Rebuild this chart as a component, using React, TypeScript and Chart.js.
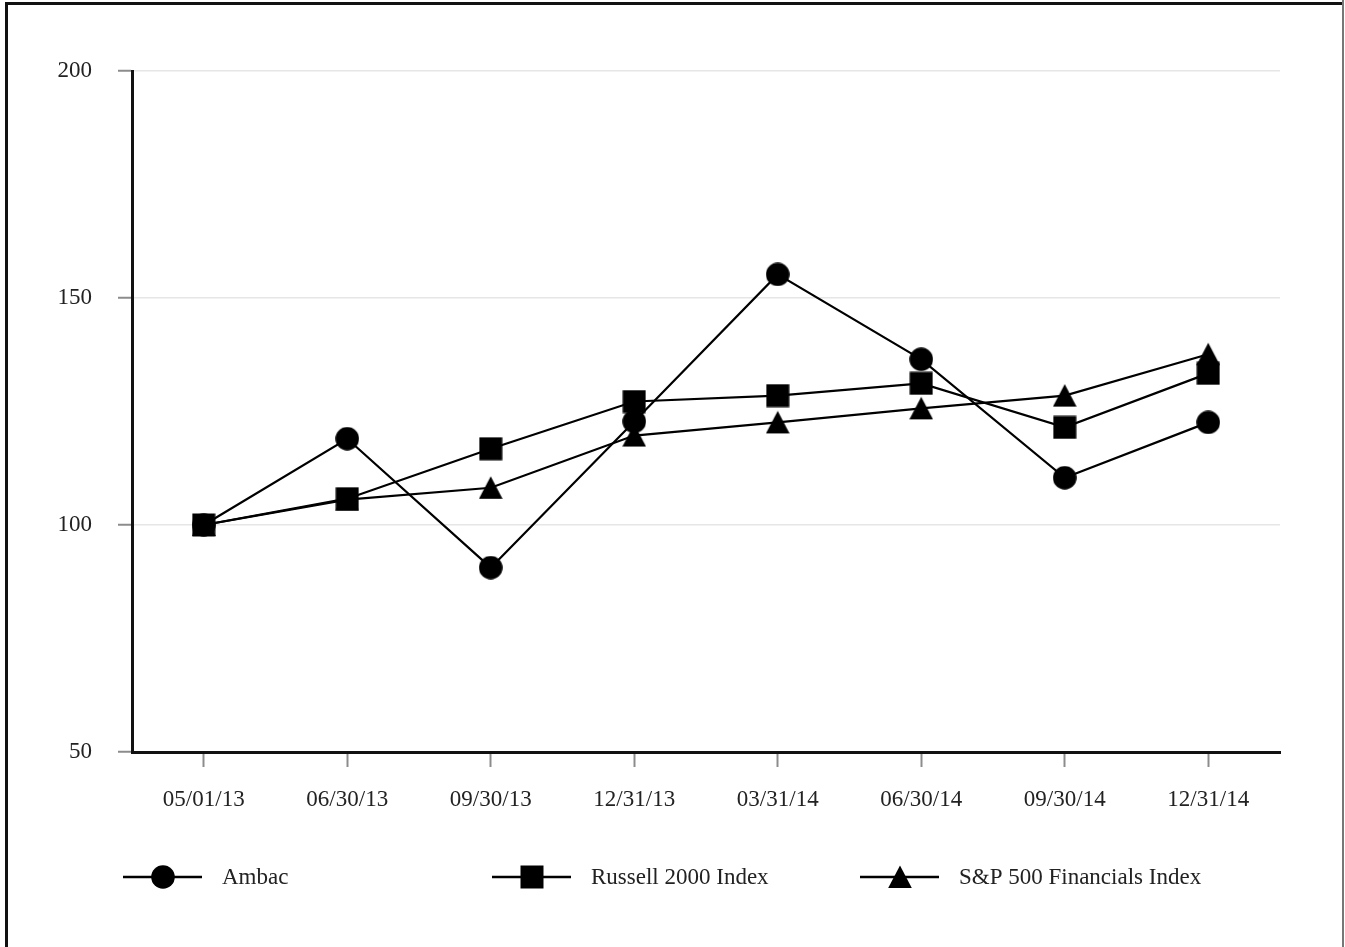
import React, { useEffect, useRef } from 'react';
import { Chart, registerables } from 'chart.js';

Chart.register(...registerables);

const categories = ['05/01/13', '06/30/13', '09/30/13', '12/31/13', '03/31/14', '06/30/14', '09/30/14', '12/31/14'];
const ambac = [100, 119.0, 90.6, 122.8, 155.2, 136.5, 110.4, 122.6];
const russell2000 = [100, 105.8, 116.8, 127.2, 128.5, 131.2, 121.5, 133.4];
const sp500Financials = [100, 105.6, 108.2, 119.7, 122.6, 125.7, 128.5, 137.6];
const seriesNames = ['Ambac', 'Russell 2000 Index', 'S&P 500 Financials Index'];
const yMin = 50;
const yMax = 200;
const yStep = 50;

const FONT = '"Liberation Serif", "Times New Roman", serif';

function makeMarker(kind: string): HTMLCanvasElement {
  const c = document.createElement('canvas');
  c.width = 24;
  c.height = 24;
  const ctx = c.getContext('2d') as CanvasRenderingContext2D;
  ctx.fillStyle = '#000';
  ctx.beginPath();
  if (kind === 'circle') {
    ctx.ellipse(12, 12, 11.8, 11.8, 0, 0, Math.PI * 2);
  } else if (kind === 'square') {
    ctx.rect(0.5, 0.5, 23, 23);
  } else {
    ctx.moveTo(12, 0.5);
    ctx.lineTo(23.8, 23);
    ctx.lineTo(0.2, 23);
    ctx.closePath();
  }
  ctx.fill();
  return c;
}

export default function App() {
  const ref = useRef<HTMLCanvasElement>(null);

  useEffect(() => {
    const markers = [makeMarker('circle'), makeMarker('square'), makeMarker('triangle')];
    const values = [ambac, russell2000, sp500Financials];

    const framePlugin = {
      id: 'frame',
      beforeDraw(chart: any) {
        const ctx = chart.ctx as CanvasRenderingContext2D;
        ctx.save();
        ctx.fillStyle = '#ffffff';
        ctx.fillRect(0, 0, chart.width, chart.height);
        ctx.fillStyle = '#111';
        ctx.fillRect(5, 2, 1339, 3);
        ctx.fillRect(5, 2, 3, 945);
        ctx.fillStyle = '#777';
        ctx.fillRect(1342, 0, 2, 947);
        ctx.restore();
      },
    };

    const legendPlugin = {
      id: 'customLegend',
      afterDraw(chart: any) {
        const ctx = chart.ctx as CanvasRenderingContext2D;
        const lineStarts = [123, 492, 860];
        const y = 877;
        ctx.save();
        chart.data.datasets.forEach((ds: any, i: number) => {
          const x0 = lineStarts[i];
          ctx.strokeStyle = '#000';
          ctx.lineWidth = 2.5;
          ctx.beginPath();
          ctx.moveTo(x0, y);
          ctx.lineTo(x0 + 79, y);
          ctx.stroke();
          const m = markers[i];
          ctx.drawImage(m, x0 + 40 - m.width / 2, y - m.height / 2);
          ctx.fillStyle = '#222';
          ctx.font = '23px ' + FONT;
          ctx.textBaseline = 'middle';
          ctx.textAlign = 'left';
          ctx.fillText(ds.label, x0 + 99, y + 1);
        });
        ctx.restore();
      },
    };

    const chart = new Chart(ref.current as HTMLCanvasElement, {
      type: 'line',
      data: {
        labels: categories,
        datasets: values.map((v, i) => ({
          label: seriesNames[i],
          data: v,
          borderColor: '#000',
          backgroundColor: '#000',
          borderWidth: 2.2,
          tension: 0,
          fill: false,
          pointStyle: markers[i] as any,
          pointRadius: 12,
          pointHoverRadius: 12,
        })),
      },
      options: {
        animation: false,
        responsive: false,
        maintainAspectRatio: false,
        layout: { padding: { left: 0, right: 65, top: 71, bottom: 0 } },
        plugins: {
          legend: { display: false },
          tooltip: { enabled: false },
        },
        scales: {
          x: {
            type: 'category',
            offset: true,
            grid: {
              drawOnChartArea: false,
              offset: false,
              tickLength: 15,
              tickColor: '#8c8c8c',
              tickWidth: 2,
            },
            border: { display: true, color: '#111', width: 3 },
            ticks: {
              font: { family: FONT, size: 23 },
              color: '#222',
              padding: 19,
              maxRotation: 0,
              autoSkip: false,
            },
            afterFit(scale: any) {
              scale.height = 195;
            },
          },
          y: {
            min: yMin,
            max: yMax,
            ticks: {
              stepSize: yStep,
              font: { family: FONT, size: 23 },
              color: '#222',
              padding: 26,
            },
            grid: {
              color: '#e6e6e6',
              lineWidth: 1.5,
              tickLength: 14,
              tickColor: '#8c8c8c',
              tickWidth: 2,
            },
            border: { display: true, color: '#111', width: 3 },
            afterFit(scale: any) {
              scale.width = 132;
            },
          },
        },
      },
      plugins: [framePlugin, legendPlugin],
    });

    return () => chart.destroy();
  }, []);

  return (
    <div style={{ position: 'fixed', left: 0, top: 0, width: 1345, height: 947, background: '#fff' }}>
      <canvas ref={ref} width={1345} height={947} style={{ display: 'block', width: 1345, height: 947 }} />
    </div>
  );
}
